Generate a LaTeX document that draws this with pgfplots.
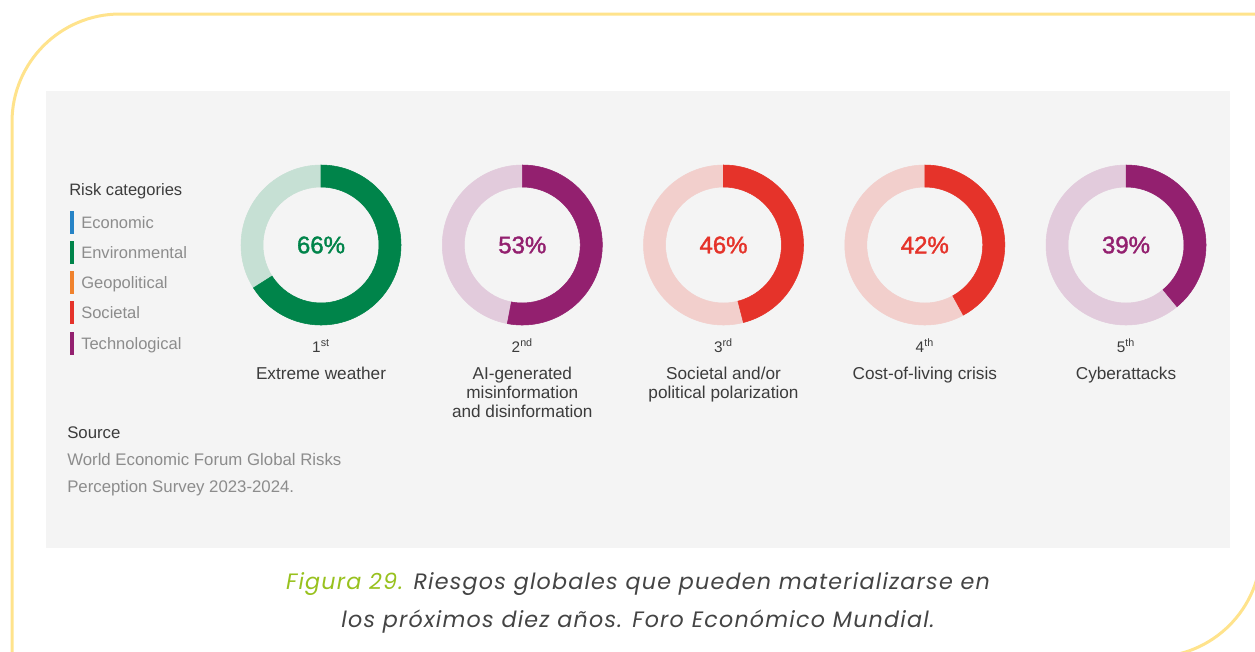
\documentclass[border=0pt]{standalone}
\usepackage{fontspec}
\setmainfont{Liberation Sans}
\newfontfamily\capfont{Poppins}[LetterSpace=5.3]
\newfontfamily\pctfont{Liberation Sans}[FakeBold=1.6]
\usepackage{pgfplots}
\pgfplotsset{compat=1.18}
\usepackage{pgfplotstable}

\definecolor{cgreen}{HTML}{00844A}
\definecolor{lgreen}{HTML}{C6E0D4}
\definecolor{cpurple}{HTML}{93206F}
\definecolor{lpurple}{HTML}{E2CBDC}
\definecolor{cred}{HTML}{E5332A}
\definecolor{lred}{HTML}{F2CFCC}
\definecolor{cblue}{HTML}{2683C6}
\definecolor{corange}{HTML}{F0822D}
\definecolor{panel}{HTML}{F4F4F4}
\definecolor{frame}{HTML}{FFE38C}
\definecolor{tdark}{HTML}{3C3C3C}
\definecolor{tgray}{HTML}{8C8C8C}
\definecolor{capgreen}{HTML}{98C11E}
\definecolor{capdark}{HTML}{444444}

% donut centres (pixel coordinates), share in %, category (1 environmental, 2 technological, 3 societal)
\pgfplotstableread{
x      y    val  cat
321    245  66   1
522.3  245  53   2
723.5  245  46   3
924.8  245  42   3
1126   245  39   2
}\donuts

\newcommand\lfont{\fontsize{12.4}{14}\selectfont}
\newcommand\srcfont{\fontsize{12.6}{14}\selectfont}
\newcommand\labfont{\fontsize{12.9}{14}\selectfont}
\newcommand\rkfont{\fontsize{11.5}{13}\selectfont}

\begin{document}
\begin{tikzpicture}
\begin{axis}[
  x=0.75pt, y=0.75pt,
  xmin=0, xmax=1255, ymin=0, ymax=651,
  y dir=reverse,
  hide axis, clip=false,
]
\coordinate (SW) at (axis cs:0,651);
\coordinate (NE) at (axis cs:1255,0);
% frame
\draw[frame, line width=2.25pt, rounded corners=81pt]
  (axis cs:12,760) -- (axis cs:12,14) -- (axis cs:1400,14);
\draw[frame, line width=2.25pt, rounded corners=81pt]
  (axis cs:1261,-100) -- (axis cs:1261,657) -- (axis cs:1000,657);
% grey panel
\fill[panel] (axis cs:46,91) rectangle (axis cs:1230,548);

% donuts
\addplot[scatter, only marks, mark=*, mark size=0pt,
  mark options={draw=none, fill=none},
  visualization depends on={\thisrow{val} \as \val},
  visualization depends on={\thisrow{cat} \as \cat},
  scatter/@pre marker code/.code={%
    \pgfmathtruncatemacro\catn{\cat}%
    \pgfmathtruncatemacro\pctn{round(\val)}%
    \ifcase\catn\or
      \colorlet{dk}{cgreen}\colorlet{lt}{lgreen}\or
      \colorlet{dk}{cpurple}\colorlet{lt}{lpurple}\or
      \colorlet{dk}{cred}\colorlet{lt}{lred}\fi
    \fill[lt, even odd rule] (0,0) circle[radius=60pt] (0,0) circle[radius=43.5pt];
    \pgfmathsetmacro\endang{90-3.6*\val}%
    \fill[dk] (90:60pt) arc[start angle=90, end angle=\endang, radius=60pt]
       -- (\endang:43.5pt) arc[start angle=\endang, end angle=90, radius=43.5pt] -- cycle;
    \node[text=dk, font=\pctfont\fontsize{18}{20}\selectfont] at (0,0) {\pctn\%};
    \begin{scope}},
  scatter/@post marker code/.code={\end{scope}},
] table[x=x, y=y] {\donuts};

% legend
\node[anchor=base west, text=tdark, font=\lfont, inner sep=0pt] at (axis cs:69,195) {Risk categories};
\fill[cblue]   (axis cs:69.5,210.5) rectangle (axis cs:73.5,233.5);
\fill[cgreen]  (axis cs:69.5,240.5) rectangle (axis cs:73.5,263.5);
\fill[corange] (axis cs:69.5,270.5) rectangle (axis cs:73.5,293.5);
\fill[cred]    (axis cs:69.5,300.5) rectangle (axis cs:73.5,323.5);
\fill[cpurple] (axis cs:69.5,331.5) rectangle (axis cs:73.5,354.5);
\node[anchor=base west, text=tgray, font=\lfont, inner sep=0pt] at (axis cs:81,228) {Economic};
\node[anchor=base west, text=tgray, font=\lfont, inner sep=0pt] at (axis cs:81,258) {Environmental};
\node[anchor=base west, text=tgray, font=\lfont, inner sep=0pt] at (axis cs:81,288) {Geopolitical};
\node[anchor=base west, text=tgray, font=\lfont, inner sep=0pt] at (axis cs:81,318) {Societal};
\node[anchor=base west, text=tgray, font=\lfont, inner sep=0pt] at (axis cs:81,349) {Technological};

% ranks and names
\node[anchor=base, text=tdark, font=\rkfont, inner sep=0pt] at (axis cs:321,352) {1\textsuperscript{st}};
\node[anchor=base, text=tdark, font=\rkfont, inner sep=0pt] at (axis cs:522.3,352) {2\textsuperscript{nd}};
\node[anchor=base, text=tdark, font=\rkfont, inner sep=0pt] at (axis cs:723.5,352) {3\textsuperscript{rd}};
\node[anchor=base, text=tdark, font=\rkfont, inner sep=0pt] at (axis cs:924.8,352) {4\textsuperscript{th}};
\node[anchor=base, text=tdark, font=\rkfont, inner sep=0pt] at (axis cs:1126,352) {5\textsuperscript{th}};

\node[anchor=base, text=tdark, font=\labfont, inner sep=0pt] at (axis cs:321,379) {Extreme weather};
\node[anchor=base, text=tdark, font=\labfont, inner sep=0pt] at (axis cs:522.3,379) {AI-generated};
\node[anchor=base, text=tdark, font=\labfont, inner sep=0pt] at (axis cs:522.3,398) {misinformation};
\node[anchor=base, text=tdark, font=\labfont, inner sep=0pt] at (axis cs:522.3,417) {and disinformation};
\node[anchor=base, text=tdark, font=\labfont, inner sep=0pt] at (axis cs:723.5,379) {Societal and/or};
\node[anchor=base, text=tdark, font=\labfont, inner sep=0pt] at (axis cs:723.5,398) {political polarization};
\node[anchor=base, text=tdark, font=\labfont, inner sep=0pt] at (axis cs:924.8,379) {Cost-of-living crisis};
\node[anchor=base, text=tdark, font=\labfont, inner sep=0pt] at (axis cs:1126,379) {Cyberattacks};

% source
\node[anchor=base west, text=tdark, font=\srcfont, inner sep=0pt] at (axis cs:67,438) {Source};
\node[anchor=base west, text=tgray, font=\srcfont, inner sep=0pt] at (axis cs:67,465) {World Economic Forum Global Risks};
\node[anchor=base west, text=tgray, font=\srcfont, inner sep=0pt] at (axis cs:67,492) {Perception Survey 2023-2024.};

% caption
\node[anchor=base, text=capdark, font=\capfont\itshape\fontsize{16.7}{18}\selectfont, inner sep=0pt] at (axis cs:638,589)
  {{\color{capgreen}Figura 29.} Riesgos globales que pueden materializarse en};
\node[anchor=base, text=capdark, font=\capfont\itshape\fontsize{16.7}{18}\selectfont, inner sep=0pt] at (axis cs:638,627)
  {los próximos diez años. Foro Económico Mundial.};
\end{axis}
\pgfresetboundingbox
\useasboundingbox (SW) rectangle (NE);
\end{tikzpicture}
\end{document}
